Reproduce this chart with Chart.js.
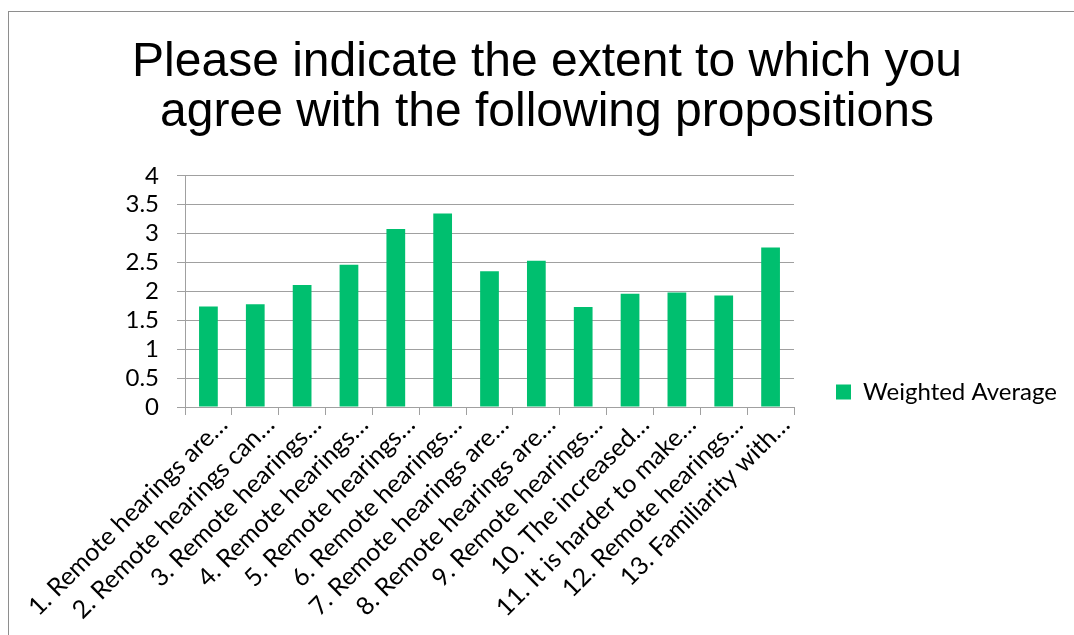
<!DOCTYPE html>
<html>
<head>
<meta charset="utf-8">
<script src="https://cdn.jsdelivr.net/npm/chart.js"></script>
<style>
  html, body { margin: 0; padding: 0; background: #fff; overflow: hidden; }
  #frame { position: absolute; left: 8px; top: 11px; width: 1080px; height: 640px; border: 1px solid #8e8e8e; }
  #chart { position: absolute; left: 0; top: 0; }
</style>
</head>
<body>
<div id="frame"><canvas id="chart" width="1065" height="623"></canvas></div>
<script>
const titleLines = ['Please indicate the extent to which you', 'agree with the following propositions'];
const categories = [
  '1. Remote hearings are…',
  '2. Remote hearings can…',
  '3. Remote hearings…',
  '4. Remote hearings…',
  '5. Remote hearings…',
  '6. Remote hearings…',
  '7. Remote hearings are…',
  '8. Remote hearings are…',
  '9. Remote hearings…',
  '10. The increased…',
  '11. It is harder to make…',
  '12. Remote hearings…',
  '13. Familiarity with…'
];
const weightedAverage = [1.74, 1.78, 2.11, 2.46, 3.08, 3.35, 2.35, 2.53, 1.73, 1.96, 1.98, 1.93, 2.76];
const yTicks = [0, 0.5, 1, 1.5, 2, 2.5, 3, 3.5, 4];
const seriesName = 'Weighted Average';

const axisGrey = '#a0a0a0';
const labelFont = { family: 'Lato', size: 24 };

// the legend box gets capped narrower than its text; let it draw past that edge
const legendNoClip = {
  id: 'legendNoClip',
  afterLayout(chart) {
    if (chart.legend) chart.legend.right = chart.width;
  }
};

new Chart(document.getElementById('chart'), {
  type: 'bar',
  data: {
    labels: categories,
    datasets: [{
      label: seriesName,
      data: weightedAverage,
      backgroundColor: '#00bf6f',
      borderWidth: 0,
      barPercentage: 0.4,
      categoryPercentage: 1
    }]
  },
  plugins: [legendNoClip],
  options: {
    responsive: false,
    animation: false,
    layout: { padding: { left: 44, right: 33, top: 0, bottom: 0 } },
    plugins: {
      tooltip: { enabled: false },
      title: {
        display: true,
        text: titleLines,
        color: '#000',
        font: { family: 'Liberation Sans', size: 48, weight: 'normal', lineHeight: 1.04 },
        padding: { top: 26, bottom: 38 }
      },
      legend: {
        position: 'right',
        // empty legend title only nudges the single entry down beside the plot
        title: { display: true, text: '', font: { size: 1, lineHeight: 1 }, padding: { top: 136, bottom: 0 } },
        labels: {
          boxWidth: 15,
          boxHeight: 15,
          padding: 42,
          color: '#000',
          font: labelFont
        }
      }
    },
    scales: {
      x: {
        grid: { drawOnChartArea: false, drawTicks: true, tickLength: 8, offset: true, color: axisGrey },
        border: { color: axisGrey },
        ticks: {
          autoSkip: false, maxRotation: 45, minRotation: 45,
          padding: -5, labelOffset: 15,
          color: '#000', font: { family: 'Lato', size: 25 }
        },
        afterFit: s => { s.height = 228; }
      },
      y: {
        min: 0,
        max: 4,
        grid: { color: axisGrey, tickLength: 8 },
        border: { color: axisGrey },
        ticks: { autoSkip: false, padding: 18, color: '#000', font: labelFont, callback: v => String(v) },
        afterBuildTicks: s => { s.ticks = yTicks.map(v => ({ value: v })); },
        afterFit: s => { s.width = 132; }
      }
    }
  }
});
</script>
</body>
</html>
